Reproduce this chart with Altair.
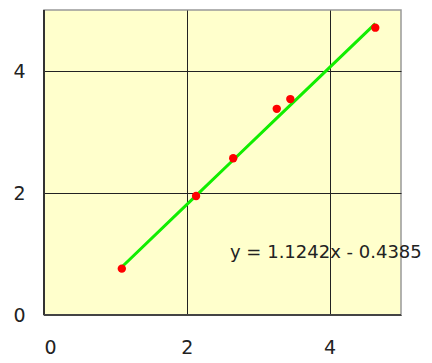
import altair as alt
import pandas as pd

xs = [1.09, 2.13, 2.65, 3.26, 3.45, 4.64]
ys = [0.76, 1.95, 2.57, 3.38, 3.54, 4.71]
slope = 1.1242
intercept = -0.4385
equation = "y = 1.1242x - 0.4385"
x_ticks = [0, 2, 4]
y_ticks = [0, 2, 4]

df = pd.DataFrame({"x": xs, "y": ys})
FONT = "DejaVu Sans"

xscale = alt.Scale(domain=[0, 5], nice=False)
yscale = alt.Scale(domain=[0, 5], nice=False)

xaxis = alt.Axis(values=x_ticks, title=None, grid=True, gridColor="#222222", gridOpacity=1,
                 gridWidth=1, domain=False, ticks=False, labelPadding=23,
                 labelFont=FONT, labelFontSize=19, labelColor="#222222", format="d")
yaxis = alt.Axis(values=y_ticks, title=None, grid=True, gridColor="#222222", gridOpacity=1,
                 gridWidth=1, domain=False, ticks=False, labelPadding=19,
                 labelFont=FONT, labelFontSize=19, labelColor="#222222", format="d")

base = alt.Chart(df)

points = base.mark_circle(color="#ff0000", size=70, opacity=1).encode(
    x=alt.X("x:Q", scale=xscale, axis=xaxis),
    y=alt.Y("y:Q", scale=yscale, axis=yaxis),
)

line = base.transform_calculate(
    yfit=f"{slope} * datum.x + ({intercept})"
).mark_line(color="#11ee00", strokeWidth=3).encode(
    x=alt.X("x:Q", scale=xscale),
    y=alt.Y("yfit:Q", scale=yscale),
)

eq = alt.Chart(pd.DataFrame({"t": [equation]})).mark_text(
    align="left", baseline="alphabetic", font=FONT, fontSize=18, color="#222222"
).encode(
    text="t:N",
    x=alt.value(186),
    y=alt.value(248),
)

left_border = alt.Chart(pd.DataFrame({"a": [0]})).mark_rule(color="#333333", strokeWidth=2).encode(
    x=alt.value(0), y=alt.value(0), y2=alt.value(305))
bottom_border = alt.Chart(pd.DataFrame({"a": [0]})).mark_rule(color="#444444", strokeWidth=2).encode(
    x=alt.value(0), x2=alt.value(357), y=alt.value(305))

chart = alt.layer(line, points, left_border, bottom_border, eq).properties(
    width=357, height=305,
    autosize=alt.AutoSizeParams(type="none"),
    padding={"left": 36, "top": 2, "right": 23, "bottom": 47},
).configure_view(
    fill="#ffffcc", stroke="#999999", strokeWidth=1.5
)

chart.save("out.html", embed_options={"renderer": "svg", "actions": False})
